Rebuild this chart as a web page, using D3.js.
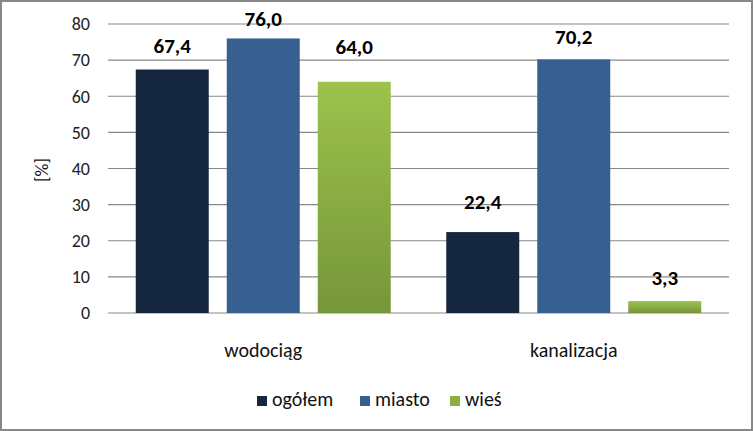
<!DOCTYPE html>
<html><head><meta charset="utf-8">
<script src="https://cdn.jsdelivr.net/npm/d3@7"></script>
<style>body{margin:0;background:#fff}svg{display:block}text{font-family:Carlito,Lato,"Open Sans",sans-serif}</style>
</head><body>
<svg id="c" width="753" height="431"></svg>
<script>
const categories = ["wodociąg", "kanalizacja"];
const seriesNames = ["ogółem", "miasto", "wieś"];
const ogolem = [67.4, 22.4];
const miasto = [76.0, 70.2];
const wies = [64.0, 3.3];
const yTicks = [0, 10, 20, 30, 40, 50, 60, 70, 80];

const values = [ogolem, miasto, wies];
// label baseline gap above bar top (px), per series per category, as placed in the original
const labelGap = [[17, 23], [12, 15], [28, 16]];

const svg = d3.select("#c");
const defs = svg.append("defs");
const g1 = defs.append("linearGradient").attr("id","gGreen").attr("x1",0).attr("y1",0).attr("x2",0).attr("y2",1);
g1.append("stop").attr("offset","0%").attr("stop-color","#9dc24c");
g1.append("stop").attr("offset","100%").attr("stop-color","#76963a");
const fills = ["#14273f", "#375f90", "url(#gGreen)"];
const legendFills = ["#14273f", "#375f90", "#8db044"];

svg.append("rect").attr("x",1).attr("y",1).attr("width",751).attr("height",429)
  .attr("fill","#fff").attr("stroke","#878787").attr("stroke-width",2);

const L = 108, R = 729, T = 24, B = 313;
const y = d3.scaleLinear().domain([0, 80]).range([B, T]);
const x0 = d3.scaleBand().domain(categories).range([L, R]);
const x1 = d3.scaleBand().domain(seriesNames).range([0, x0.bandwidth()]).paddingInner(0.198).paddingOuter(0.305);

// grid
svg.append("g").selectAll("line").data(yTicks).join("line")
  .attr("x1", L).attr("x2", R).attr("y1", d => y(d)).attr("y2", d => y(d))
  .attr("stroke", "#878787").attr("stroke-width", 1.2);

// y axis labels
const ya = svg.append("g").attr("transform", `translate(${L},0)`)
  .call(d3.axisLeft(y).tickValues(yTicks).tickSize(0).tickPadding(18));
ya.select(".domain").remove();
ya.selectAll("text").attr("font-size", 18).attr("fill", "#222").attr("font-family", "Carlito,Lato,sans-serif");

svg.append("text").attr("transform", `translate(48,${170}) rotate(-90)`)
  .attr("text-anchor","middle").attr("font-size",18).attr("fill","#111").text("[%]");

// bars
const groups = svg.append("g").selectAll("g").data(categories).join("g")
  .attr("transform", d => `translate(${x0(d)},0)`);
groups.each(function(cat, ci) {
  const g = d3.select(this);
  seriesNames.forEach((s, si) => {
    const v = values[si][ci];
    g.append("rect").attr("x", x1(s)).attr("y", y(v)).attr("width", x1.bandwidth())
      .attr("height", y(0) - y(v)).attr("fill", fills[si]);
    g.append("text").attr("x", x1(s) + x1.bandwidth()/2).attr("y", y(v) - labelGap[si][ci])
      .attr("text-anchor","middle").attr("font-size",21).attr("font-weight","bold")
      .attr("fill","#000").text(v.toFixed(1).replace(".", ","));
  });
});

// category axis
svg.append("g").selectAll("text").data(categories).join("text")
  .attr("x", d => x0(d) + x0.bandwidth()/2).attr("y", 357)
  .attr("text-anchor","middle").attr("font-size",20).attr("fill","#111").text(d => d);

// legend
const legX = [257, 360, 450];
const lg = svg.append("g");
seriesNames.forEach((s, i) => {
  lg.append("rect").attr("x", legX[i]).attr("y", 396).attr("width", 10).attr("height", 10).attr("fill", legendFills[i]);
  lg.append("text").attr("x", legX[i] + 15).attr("y", 406).attr("font-size", 20).attr("fill","#111").text(s);
});
</script>
</body></html>
